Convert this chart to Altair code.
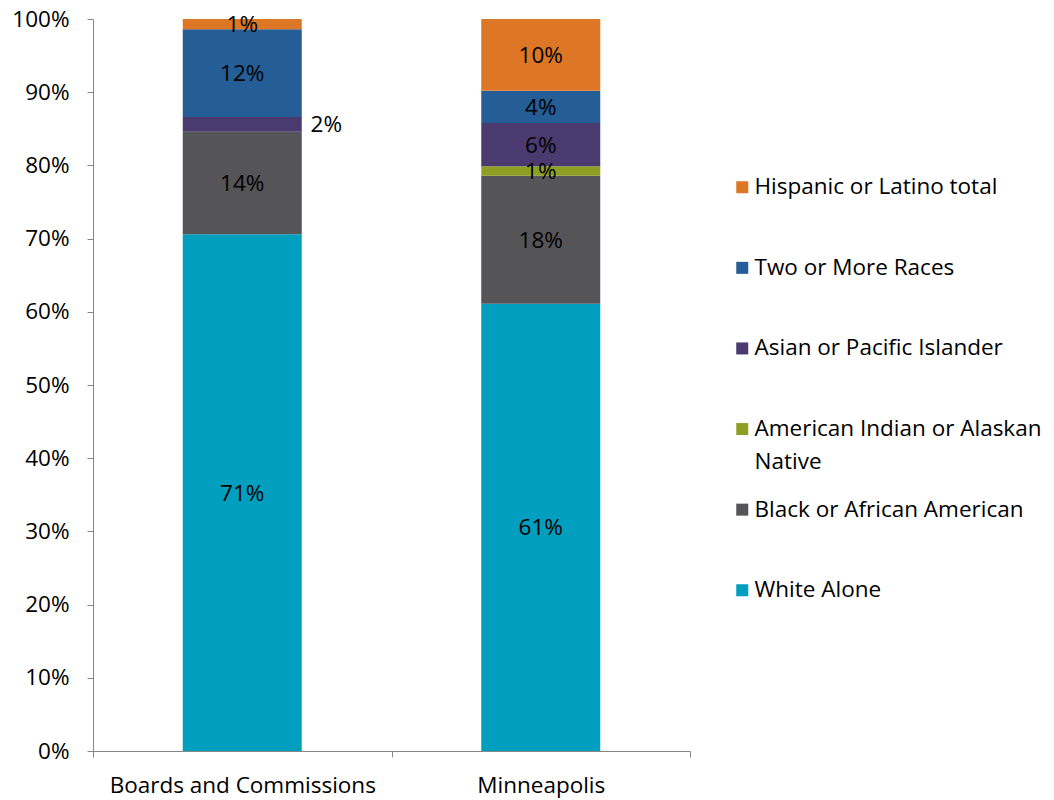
import altair as alt
import pandas as pd

groups = ["Boards and Commissions", "Minneapolis"]
races = [
    "White Alone",
    "Black or African American",
    "American Indian or Alaskan Native",
    "Asian or Pacific Islander",
    "Two or More Races",
    "Hispanic or Latino total",
]
colors = ["#009fbf", "#555557", "#8ea024", "#4b3a70", "#255e96", "#dd7726"]
boards = [70.6, 14.0, 0.0, 2.0, 12.0, 1.4]
minneapolis = [61.1, 17.5, 1.3, 5.9, 4.4, 9.8]
y_ticks = [0, 10, 20, 30, 40, 50, 60, 70, 80, 90, 100]

rows = []
for g, vals in zip(groups, [boards, minneapolis]):
    for i, (r, v) in enumerate(zip(races, vals)):
        rows.append({"group": g, "race": r, "value": v, "rank": i})
df = pd.DataFrame(rows)

legend_order = list(reversed(races))
legend_colors = list(reversed(colors))

FONT = "Open Sans"
FS = 22.5

x_enc = alt.X(
    "group:N",
    sort=groups,
    title=None,
    scale=alt.Scale(paddingInner=0, paddingOuter=0),
    axis=alt.Axis(labelAngle=0, tickBand="extent", tickSize=6, labelPadding=17,
                  labelLimit=500, domainColor="#868686", tickColor="#868686"),
)

base = alt.Chart(df)

bars = base.mark_bar(size=119).encode(
    x=x_enc,
    y=alt.Y(
        "value:Q",
        stack="zero",
        title=None,
        scale=alt.Scale(domain=[0, 100], nice=False),
        axis=alt.Axis(values=y_ticks, labelExpr="datum.value + '%'", grid=False,
                      tickSize=6, labelPadding=18, domainColor="#868686",
                      tickColor="#868686"),
    ),
    color=alt.Color(
        "race:N",
        scale=alt.Scale(domain=legend_order, range=legend_colors),
        legend=alt.Legend(
            title=None,
            orient="none",
            legendX=638,
            legendY=157,
            direction="vertical",
            columns=1,
            symbolType="square",
            symbolSize=144,
            symbolStrokeWidth=0,
            labelFont=FONT,
            labelFontSize=FS,
            labelColor="#000000",
            labelOffset=1,
            labelLimit=500,
            gridAlign="all",
            rowPadding=24.6,
            padding=0,
            labelExpr="datum.label == 'American Indian or Alaskan Native' ? ['American Indian or Alaskan', 'Native'] : datum.label",
        ),
    ),
    order=alt.Order("rank:Q", sort="ascending"),
)

labels = (
    base.transform_filter("datum.value > 0")
    .transform_stack(
        stack="value",
        groupby=["group"],
        sort=[alt.SortField("rank", order="ascending")],
        as_=["y0", "y1"],
    )
    .transform_calculate(mid="(datum.y0 + datum.y1) / 2", txt="round(datum.value) + '%'")
)

is_outside = "datum.group == 'Boards and Commissions' && datum.race == 'Asian or Pacific Islander'"

inside = labels.transform_filter("!(" + is_outside + ")").mark_text(
    font=FONT, fontSize=FS, color="#000000", baseline="middle", dy=1
).encode(
    x=alt.X("group:N", sort=groups),
    y=alt.Y("mid:Q"),
    text="txt:N",
)

outside = labels.transform_filter(is_outside).mark_text(
    font=FONT, fontSize=FS, color="#000000", baseline="middle", dx=84, dy=1
).encode(
    x=alt.X("group:N", sort=groups),
    y=alt.Y("mid:Q"),
    text="txt:N",
)

chart = (
    alt.layer(bars, inside, outside)
    .properties(
        width=597,
        height=732,
        autosize=alt.AutoSizeParams(type="none"),
        padding={"left": 93, "top": 19, "right": 364, "bottom": 49},
    )
    .configure(style={"guide-label": {"lineHeight": 33}})
    .configure_view(stroke=None)
    .configure_axis(labelFont=FONT, labelFontSize=FS, labelColor="#000000")
)

chart.save("out.html", embed_options={"renderer": "svg", "actions": False})
